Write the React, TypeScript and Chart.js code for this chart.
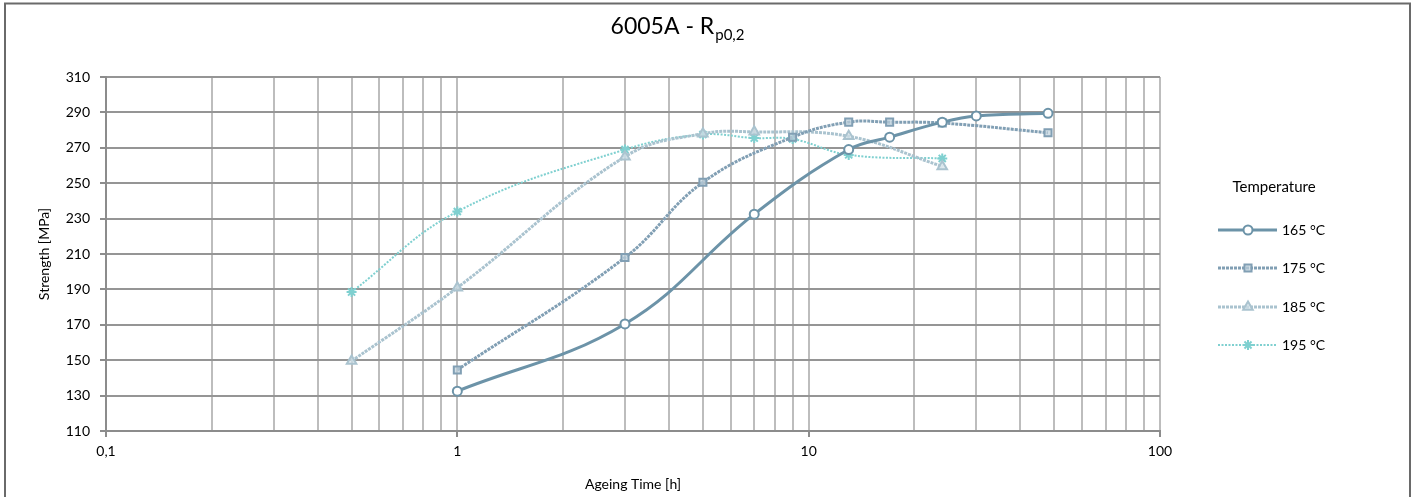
import React, { useEffect, useRef } from "react";
import { Chart, registerables } from "chart.js";
import { drawPoint } from "chart.js/helpers";

Chart.register(...registerables);

const seriesLabels = ["165 °C", "175 °C", "185 °C", "195 °C"];
const x165 = [1, 3, 7, 13, 17, 24, 30, 48];
const y165 = [132.5, 170.5, 232.5, 269, 276, 284.5, 288, 289.5];
const x175 = [1, 3, 5, 9, 13, 17, 24, 48];
const y175 = [144.5, 208, 250.5, 276, 284.5, 284.5, 284, 278.5];
const x185 = [0.5, 1, 3, 5, 7, 13, 24];
const y185 = [149.5, 191, 265, 278, 279, 276.5, 259.5];
const x195 = [0.5, 1, 3, 5, 7, 9, 13, 24];
const y195 = [188.5, 234, 269, 277.5, 275.5, 275, 266, 264];
const xTickValues = [0.1, 0.2, 0.3, 0.4, 0.5, 0.6, 0.7, 0.8, 0.9, 1, 2, 3, 4, 5, 6, 7, 8, 9, 10, 20, 30, 40, 50, 60, 70, 80, 90, 100];
const xMajorLabels: Record<string, string> = { "0.1": "0,1", "1": "1", "10": "10", "100": "100" };

const FONT = "Lato, 'Open Sans', sans-serif";

const styles = [
  { color: "#6C93A8", width: 3, dash: [] as number[], point: "circle", radius: 4.5, bg: "#ffffff" },
  { color: "#819FB4", width: 3, dash: [3, 1], point: "rect", radius: 5, bg: "rgba(190,208,220,0.7)" },
  { color: "#AAC3CF", width: 3, dash: [3, 1], point: "triangle", radius: 5.5, bg: "rgba(210,225,232,0.7)" },
  { color: "#7FD0D0", width: 2, dash: [2, 1.5], point: "star", radius: 5, bg: "rgba(127,208,208,0.5)" },
];

const xs = [x165, x175, x185, x195];
const ys = [y165, y175, y185, y195];

const overlayPlugin = {
  id: "overlay",
  beforeDraw(chart: any) {
    const ctx = chart.ctx;
    ctx.save();
    ctx.fillStyle = "#ffffff";
    ctx.fillRect(0, 0, chart.width, chart.height);
    ctx.strokeStyle = "#6a6a6a";
    ctx.lineWidth = 2;
    ctx.strokeRect(5, 3.5, 1405, 520);
    ctx.restore();
  },
  afterDraw(chart: any) {
    const ctx = chart.ctx;
    ctx.save();
    const main = "6005A - R";
    const sub = "p0,2";
    ctx.font = `23px ${FONT}`;
    const w1 = ctx.measureText(main).width;
    ctx.font = `15px ${FONT}`;
    const w2 = ctx.measureText(sub).width;
    const start = 677 - (w1 + w2) / 2;
    ctx.fillStyle = "#000000";
    ctx.textBaseline = "alphabetic";
    ctx.textAlign = "left";
    ctx.font = `23px ${FONT}`;
    ctx.fillText(main, start, 34);
    ctx.font = `15px ${FONT}`;
    ctx.fillText(sub, start + w1 + 1, 40);

    ctx.font = `15px ${FONT}`;
    ctx.textAlign = "center";
    ctx.textBaseline = "middle";
    ctx.fillText("Temperature", 1274, 187);
    const itemY = [230, 268, 307, 345];
    styles.forEach((s, i) => {
      const y = itemY[i];
      ctx.save();
      ctx.strokeStyle = s.color;
      ctx.lineWidth = s.width;
      ctx.setLineDash(s.dash);
      ctx.beginPath();
      ctx.moveTo(1218, y);
      ctx.lineTo(1277, y);
      ctx.stroke();
      ctx.restore();
      ctx.save();
      ctx.strokeStyle = s.color;
      ctx.fillStyle = s.bg;
      ctx.lineWidth = 2;
      drawPoint(ctx, { pointStyle: s.point, radius: s.radius, rotation: 0, borderWidth: 2 }, 1248, y);
      ctx.restore();
      ctx.fillStyle = "#000000";
      ctx.textAlign = "left";
      ctx.font = `14px ${FONT}`;
      ctx.fillText(seriesLabels[i], 1282, y);
    });
    ctx.restore();
  },
};

export default function App() {
  const ref = useRef<HTMLCanvasElement | null>(null);
  useEffect(() => {
    if (!ref.current) return;
    const datasets = styles.map((s, i) => ({
      label: seriesLabels[i],
      data: xs[i].map((x, j) => ({ x, y: ys[i][j] })),
      borderColor: s.color,
      borderWidth: s.width,
      borderDash: s.dash,
      backgroundColor: s.bg,
      pointStyle: s.point,
      pointRadius: s.radius,
      pointBorderWidth: 2,
      pointBorderColor: s.color,
      pointBackgroundColor: s.bg,
      tension: 0.4,
      fill: false,
      showLine: true,
    }));
    const chart = new Chart(ref.current, {
      type: "scatter",
      data: { datasets },
      options: {
        animation: false,
        responsive: false,
        devicePixelRatio: 1,
        layout: { padding: { left: 4, right: 255, top: 77, bottom: 0 } },
        plugins: { legend: { display: false }, tooltip: { enabled: false }, title: { display: false } },
        scales: {
          x: {
            type: "logarithmic",
            min: 0.1,
            max: 100,
            afterBuildTicks: (scale: any) => {
              scale.ticks = xTickValues.map((v) => ({ value: v, major: xMajorLabels[String(v)] !== undefined }));
            },
            afterFit: (scale: any) => {
              scale.height = 66;
            },
            ticks: {
              autoSkip: false,
              maxRotation: 0,
              padding: 6,
              color: "#000000",
              font: { family: FONT, size: 14 },
              callback: (v: any) => xMajorLabels[String(v)] ?? "",
            },
            grid: {
              color: "#BDBDBD",
              lineWidth: 2,
              tickLength: 6,
              tickColor: (c: any) => (c.tick && xMajorLabels[String(c.tick.value)] !== undefined ? "#8C8C8C" : "rgba(0,0,0,0)"),
            },
            border: { color: "#8C8C8C", width: 2 },
            title: {
              display: true,
              text: "Ageing Time [h]",
              color: "#000000",
              font: { family: FONT, size: 14 },
              padding: { top: 0, bottom: 4 },
            },
          },
          y: {
            min: 110,
            max: 310,
            afterFit: (scale: any) => {
              scale.width = 102;
            },
            ticks: {
              stepSize: 20,
              padding: 10,
              color: "#000000",
              font: { family: FONT, size: 14 },
            },
            grid: { color: "#959595", lineWidth: 2, tickLength: 6, tickColor: "#8C8C8C" },
            border: { color: "#8C8C8C", width: 2 },
            title: {
              display: true,
              text: "Strength [MPa]",
              color: "#000000",
              font: { family: FONT, size: 14 },
              padding: { top: 32, bottom: 0 },
            },
          },
        },
      },
      plugins: [overlayPlugin],
    } as any);
    return () => chart.destroy();
  }, []);
  return (
    <canvas
      ref={ref}
      width={1415}
      height={497}
      style={{ position: "absolute", left: 0, top: 0, width: 1415, height: 497 }}
    />
  );
}
